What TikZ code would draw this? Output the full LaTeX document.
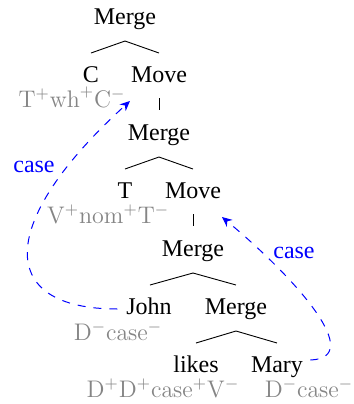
\documentclass[tikz,border=0pt]{standalone}
\usepackage[no-math]{fontspec}
\setmainfont{Liberation Serif}
\usetikzlibrary{calc,arrows.meta}
\begin{document}
\begin{tikzpicture}[x=0.5pt,y=-0.5pt,
  word/.style={anchor=base,inner sep=0pt,font=\fontsize{12}{14}\selectfont},
  feat/.style={anchor=base,inner sep=0pt,text=black!48,font=\fontsize{12}{14}\selectfont},
  branch/.style={line width=0.45pt},
  mvarrow/.style={blue,line width=0.5pt,dash pattern=on 4pt off 4pt,-{Stealth[length=5pt,width=4.5pt]}},
  mvlabel/.style={anchor=base,text=blue,font=\fontsize{12}{14}\selectfont}]
\useasboundingbox (0,0) rectangle (354,404);
% nodes
\node[word] (m1) at (125,24) {Merge};
\node[word] (c) at (91,82) {C};
\node[word] (mv1) at (159,82) {Move};
\node[feat] (fc) at (72,107) {$\mathrm{T}^{+}\mathrm{wh}^{+}\mathrm{C}^{-}$};
\node[word] (m2) at (159,140) {Merge};
\node[word] (t) at (125,198) {T};
\node[word] (mv2) at (193,198) {Move};
\node[feat] (ft) at (108,223) {$\mathrm{V}^{+}\mathrm{nom}^{+}\mathrm{T}^{-}$};
\node[word] (m3) at (193,256) {Merge};
\node[word] (john) at (149,314) {John};
\node[word] (m4) at (236,314) {Merge};
\node[feat] (fj) at (118,340) {$\mathrm{D}^{-}\mathrm{case}^{-}$};
\node[word] (likes) at (196,372) {likes};
\node[word] (mary) at (277,372) {Mary};
\node[feat] (fl) at (163,397) {$\mathrm{D}^{+}\mathrm{D}^{+}\mathrm{case}^{+}\mathrm{V}^{-}$};
\node[feat] (fm) at (309,397) {$\mathrm{D}^{-}\mathrm{case}^{-}$};
% branches
\draw[branch] ($(m1.base)+(-34,29)$) -- ($(m1.base)+(0,17)$) -- ($(m1.base)+(34,29)$);
\draw[branch] ($(mv1.base)+(0,16)$) -- ($(mv1.base)+(0,28)$);
\draw[branch] ($(m2.base)+(-34,29)$) -- ($(m2.base)+(0,17)$) -- ($(m2.base)+(34,29)$);
\draw[branch] ($(mv2.base)+(0,16)$) -- ($(mv2.base)+(0,28)$);
\draw[branch] ($(m3.base)+(-43,29)$) -- ($(m3.base)+(0,17)$) -- ($(m3.base)+(43,29)$);
\draw[branch] ($(m4.base)+(-40,29)$) -- ($(m4.base)+(0,17)$) -- ($(m4.base)+(41,29)$);
% movement arrows
\coordinate (t1) at (130,101);
\coordinate (t2) at (222,217);
\draw[mvarrow] ($(john.base west)+(-8.5,-5)$) .. controls (-5,309) and (-3,222) .. (t1);
\draw[mvarrow] ($(mary.base east)+(7,-12)$) .. controls (365,358) and (299,281) .. (t2);
\node[mvlabel] (l1) at (34,172) {case};
\node[mvlabel] (l2) at (294,258) {case};
\end{tikzpicture}
\end{document}
